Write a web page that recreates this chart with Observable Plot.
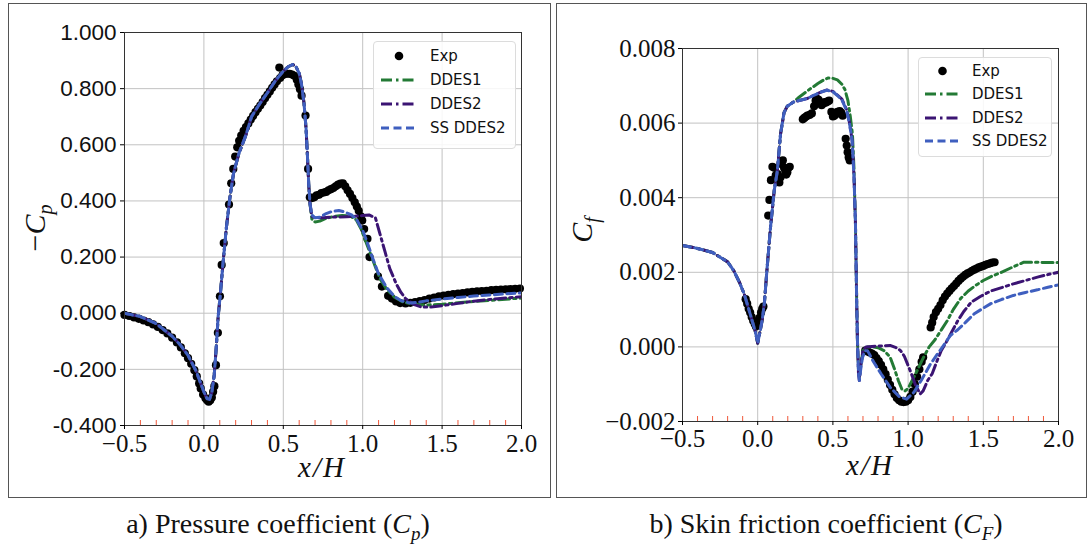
<!DOCTYPE html>
<html>
<head>
<meta charset="utf-8">
<script src="https://cdn.jsdelivr.net/npm/d3@7"></script>
<script src="https://cdn.jsdelivr.net/npm/@observablehq/plot@0.6"></script>
<style>
  html, body { margin: 0; padding: 0; background: #fff; }
  #wrap { position: relative; width: 1090px; height: 548px; overflow: hidden; background: #fff; }
  .panel { position: absolute; border: 1px solid #555; }
  .panel svg { display: block; }
  .legend { position: absolute; background: rgba(255,255,255,0.85); border: 1px solid #dcdcdc; border-radius: 4px;
            font-family: "DejaVu Sans", sans-serif; font-size: 15px; color: #111; }
  .legend svg { position: absolute; top: 0; }
  .legend span { position: absolute; white-space: nowrap; line-height: 20px; }
  .lab { position: absolute; font-family: "Liberation Serif", "DejaVu Serif", serif; color: #111; white-space: nowrap; }
  .cap { position: absolute; font-family: "Liberation Serif", serif; font-size: 28px; color: #111; white-space: nowrap; transform: translateX(-50%); }
</style>
</head>
<body>
<div id="wrap">
  <div class="panel" id="pa" style="left:8px;top:3px;width:541px;height:493px"></div>
  <div class="panel" id="pb" style="left:556px;top:3px;width:529px;height:493px"></div>

  <div class="lab" style="left:322px;top:467px;transform:translate(-50%,-50%);font-size:29px;font-style:italic;letter-spacing:2px">x/H</div>
  <div class="lab" style="left:870px;top:465px;transform:translate(-50%,-50%);font-size:29px;font-style:italic;letter-spacing:2px">x/H</div>
  <div class="lab" style="left:37px;top:228px;transform:translate(-50%,-50%) rotate(-90deg);font-size:30px">−<i>C</i><sub style="font-size:20px"><i>p</i></sub></div>
  <div class="lab" style="left:584px;top:230px;transform:translate(-50%,-50%) rotate(-90deg);font-size:30px"><i>C</i><sub style="font-size:20px"><i>f</i></sub></div>

  <div class="cap" style="left:278px;top:508px">a) Pressure coefficient (<i>C</i><sub style="font-size:19px"><i>p</i></sub>)</div>
  <div class="cap" style="left:826px;top:508px">b) Skin friction coefficient (<i>C</i><sub style="font-size:19px"><i>F</i></sub>)</div>
</div>
<script>
// ---------------- data: (a) pressure coefficient, -Cp vs x/H ----------------
const cpExp = [
  [-0.50,-0.006],[-0.47,-0.010],[-0.44,-0.015],[-0.41,-0.020],[-0.38,-0.026],[-0.35,-0.032],[-0.32,-0.040],
  [-0.29,-0.049],[-0.26,-0.060],[-0.23,-0.072],[-0.20,-0.087],[-0.17,-0.104],[-0.145,-0.122],[-0.12,-0.143],
  [-0.10,-0.160],[-0.08,-0.180],[-0.06,-0.203],[-0.045,-0.225],[-0.03,-0.250],[-0.02,-0.268],[-0.005,-0.290],
  [0.01,-0.303],[0.02,-0.310],[0.03,-0.315],[0.04,-0.310],[0.05,-0.300],[0.058,-0.280],[0.066,-0.260],
  [0.076,-0.185],[0.088,-0.070],[0.101,0.060],[0.112,0.172],[0.125,0.250],[0.158,0.387],[0.172,0.463],
  [0.185,0.514],[0.197,0.558],[0.21,0.591],[0.222,0.614],[0.235,0.633],[0.25,0.650],[0.265,0.663],
  [0.28,0.676],[0.295,0.690],[0.31,0.703],[0.325,0.716],[0.34,0.728],[0.355,0.740],[0.37,0.752],
  [0.385,0.766],[0.40,0.778],[0.415,0.790],[0.43,0.803],[0.445,0.815],[0.46,0.826],[0.475,0.875],
  [0.48,0.838],[0.495,0.848],[0.51,0.852],[0.525,0.853],[0.54,0.853],[0.555,0.850],[0.57,0.846],
  [0.585,0.832],[0.595,0.815],[0.605,0.798],[0.615,0.775],[0.64,0.704],[0.656,0.514],[0.667,0.413],
  [0.68,0.410],[0.695,0.413],[0.71,0.420],[0.725,0.422],[0.74,0.428],[0.755,0.430],[0.77,0.432],
  [0.785,0.438],[0.80,0.442],[0.815,0.446],[0.83,0.452],[0.845,0.458],[0.86,0.462],[0.875,0.463],
  [0.89,0.452],[0.905,0.438],[0.92,0.425],[0.935,0.410],[0.95,0.395],[0.963,0.380],[0.975,0.365],
  [0.988,0.345],[0.997,0.330],[1.009,0.300],[1.03,0.265],[1.043,0.200],[1.096,0.131],[1.121,0.095],
  [1.16,0.062],[1.184,0.052],[1.21,0.042],[1.236,0.036],[1.27,0.035],[1.30,0.037],[1.33,0.040],
  [1.36,0.043],[1.39,0.047],[1.42,0.052],[1.45,0.056],[1.48,0.060],[1.51,0.063],[1.54,0.065],
  [1.57,0.068],[1.60,0.070],[1.63,0.072],[1.66,0.074],[1.69,0.076],[1.72,0.078],[1.75,0.079],
  [1.78,0.080],[1.81,0.082],[1.84,0.083],[1.87,0.084],[1.90,0.085],[1.93,0.086],[1.96,0.087],[1.99,0.088]
];
// upstream part shared by the three simulations (curves overlap up to the step)
const cpSimUpstream = [
  [-0.50,0.000],[-0.40,-0.012],[-0.30,-0.037],[-0.20,-0.082],[-0.15,-0.112],[-0.10,-0.150],[-0.05,-0.205],
  [-0.02,-0.250],[0.00,-0.280],[0.02,-0.305],[0.035,-0.307],[0.05,-0.282],[0.065,-0.220],[0.078,-0.120],
  [0.09,-0.010],[0.102,0.058],[0.12,0.176],[0.142,0.307],[0.164,0.413],[0.186,0.496],[0.219,0.567],
  [0.263,0.632],[0.30,0.700],[0.35,0.745],[0.40,0.785],[0.45,0.828],[0.50,0.862],[0.53,0.878],
  [0.56,0.886],[0.58,0.878],[0.60,0.855],[0.615,0.815],[0.63,0.750],[0.643,0.660],[0.652,0.560],
  [0.66,0.460],[0.668,0.390]
];
const cpDdes1Wake = [
  [0.68,0.335],[0.70,0.325],[0.73,0.328],[0.77,0.338],[0.82,0.345],[0.87,0.348],[0.92,0.347],[0.96,0.332],
  [0.99,0.300],[1.02,0.255],[1.05,0.210],[1.08,0.165],[1.11,0.122],[1.15,0.086],[1.20,0.057],[1.25,0.041],
  [1.30,0.034],[1.35,0.031],[1.40,0.029],[1.50,0.032],[1.60,0.037],[1.70,0.042],[1.80,0.046],[1.90,0.050],[2.00,0.054]
];
const cpDdes2Wake = [
  [0.68,0.345],[0.70,0.340],[0.75,0.340],[0.80,0.342],[0.85,0.343],[0.90,0.344],[0.95,0.345],[1.00,0.348],
  [1.04,0.350],[1.08,0.340],[1.11,0.280],[1.14,0.220],[1.17,0.160],[1.21,0.106],[1.24,0.075],[1.27,0.052],
  [1.32,0.032],[1.37,0.022],[1.43,0.022],[1.50,0.027],[1.60,0.035],[1.70,0.043],[1.80,0.049],[1.90,0.054],[2.00,0.059]
];
const cpSsDdes2Wake = [
  [0.68,0.350],[0.70,0.340],[0.73,0.342],[0.77,0.355],[0.81,0.363],[0.85,0.366],[0.89,0.360],[0.93,0.350],
  [0.96,0.335],[1.00,0.295],[1.03,0.250],[1.06,0.200],[1.10,0.140],[1.15,0.092],[1.20,0.060],[1.24,0.045],
  [1.30,0.036],[1.35,0.039],[1.40,0.044],[1.50,0.051],[1.60,0.056],[1.70,0.061],[1.80,0.065],[1.90,0.069],[2.00,0.072]
];
const cpYTicks = [-0.4, -0.2, 0, 0.2, 0.4, 0.6, 0.8, 1.0];

// ---------------- data: (b) skin friction coefficient, Cf vs x/H ----------------
const cfExp = [
  [-0.08,0.00128],[-0.07,0.00116],[-0.06,0.00102],[-0.05,0.00092],[-0.04,0.00080],[-0.03,0.00070],
  [-0.02,0.00062],[-0.012,0.00055],[-0.004,0.00058],[0.004,0.00068],[0.012,0.00078],[0.022,0.00092],
  [0.03,0.00102],[0.038,0.00108],
  [0.07,0.00352],[0.078,0.00394],[0.088,0.00447],[0.098,0.00483],[0.11,0.00480],[0.12,0.00460],
  [0.133,0.00463],[0.144,0.00441],[0.152,0.00455],[0.16,0.00490],[0.167,0.00500],[0.175,0.00480],
  [0.183,0.00472],[0.19,0.00462],[0.197,0.00468],[0.205,0.00480],[0.213,0.00483],
  [0.30,0.00610],[0.31,0.00614],[0.32,0.00617],[0.33,0.00620],[0.345,0.00622],[0.36,0.00626],
  [0.375,0.00645],[0.385,0.00660],[0.395,0.00665],[0.405,0.00662],[0.415,0.00655],[0.425,0.00648],
  [0.435,0.00652],[0.445,0.00656],[0.455,0.00655],[0.465,0.00658],[0.475,0.00660],[0.49,0.00630],
  [0.50,0.00618],[0.51,0.00620],[0.52,0.00624],[0.53,0.00630],[0.545,0.00632],[0.555,0.00628],
  [0.565,0.00620],[0.585,0.00558],[0.592,0.00540],[0.598,0.00522],[0.605,0.00508],[0.612,0.00500],
  [0.715,-0.00010],[0.73,-0.00012],[0.745,-0.00015],[0.76,-0.00018],[0.775,-0.00022],[0.79,-0.00030],
  [0.805,-0.00038],[0.82,-0.00048],[0.835,-0.00060],[0.85,-0.00073],[0.865,-0.00088],[0.88,-0.00102],
  [0.895,-0.00115],[0.91,-0.00127],[0.925,-0.00137],[0.94,-0.00143],[0.955,-0.00147],[0.97,-0.00148],
  [0.985,-0.00147],[1.0,-0.00143],[1.015,-0.00134],[1.03,-0.00120],[1.045,-0.00100],[1.06,-0.00080],
  [1.075,-0.00060],[1.09,-0.00040],[1.10,-0.00028],
  [1.15,0.00052],[1.16,0.00065],[1.17,0.00080],[1.185,0.00093],[1.20,0.00102],[1.215,0.00112],
  [1.23,0.00125],[1.245,0.00135],[1.26,0.00143],[1.275,0.00150],[1.29,0.00157],[1.305,0.00163],
  [1.32,0.00170],[1.335,0.00177],[1.35,0.00183],[1.365,0.00188],[1.38,0.00193],[1.395,0.00197],
  [1.41,0.00200],[1.425,0.00204],[1.44,0.00207],[1.455,0.00210],[1.47,0.00213],[1.485,0.00215],
  [1.50,0.00217],[1.515,0.00220],[1.53,0.00222],[1.545,0.00224],[1.56,0.00226],[1.575,0.00227]
];
const cfSimUpstream = [
  [-0.50,0.00272],[-0.40,0.00264],[-0.30,0.00253],[-0.20,0.00228],[-0.16,0.00205],[-0.12,0.00172],
  [-0.09,0.00142],[-0.06,0.00102],[-0.037,0.00070],[-0.015,0.00040],[0.00,0.00010],[0.015,0.00040],
  [0.03,0.00072],[0.045,0.00120],[0.063,0.00214],[0.085,0.00320],[0.11,0.00420],[0.13,0.00470],
  [0.152,0.00571],[0.175,0.00628],[0.196,0.00645],[0.24,0.00657]
];
const cfDdes1Rest = [
  [0.27,0.00668],[0.31,0.00680],[0.35,0.00692],[0.40,0.00706],[0.44,0.00716],[0.47,0.00721],[0.50,0.00720],
  [0.53,0.00716],[0.56,0.00704],[0.58,0.00690],[0.60,0.00660],[0.615,0.00620],[0.63,0.00570],[0.64,0.00480],
  [0.65,0.00330],[0.657,0.00150],[0.663,0.00020],[0.67,-0.00060],[0.676,-0.00080],[0.685,-0.00050],
  [0.70,-0.00010],[0.72,0.00000],[0.76,0.00000],[0.80,-0.00002],[0.84,-0.00010],[0.88,-0.00027],
  [0.91,-0.00060],[0.935,-0.00090],[0.96,-0.00115],[0.98,-0.00118],[1.00,-0.00111],[1.05,-0.00072],
  [1.10,-0.00030],[1.14,0.00000],[1.18,0.00020],[1.22,0.00045],[1.26,0.00070],[1.30,0.00100],
  [1.35,0.00130],[1.40,0.00150],[1.45,0.00165],[1.50,0.00178],[1.56,0.00190],[1.62,0.00200],
  [1.70,0.00215],[1.77,0.00227],[1.85,0.00227],[1.92,0.00226],[2.00,0.00226]
];
const cfDdes2Rest = [
  [0.29,0.00662],[0.33,0.00666],[0.38,0.00676],[0.42,0.00683],[0.46,0.00689],[0.50,0.00685],[0.53,0.00675],
  [0.56,0.00664],[0.59,0.00637],[0.61,0.00602],[0.628,0.00553],[0.64,0.00460],[0.65,0.00330],[0.657,0.00150],
  [0.663,0.00020],[0.67,-0.00070],[0.676,-0.00090],[0.685,-0.00050],[0.70,-0.00010],[0.72,0.00000],
  [0.78,0.00002],[0.84,0.00003],[0.88,0.00004],[0.92,-0.00002],[0.95,-0.00010],[0.975,-0.00025],
  [0.995,-0.00045],[1.02,-0.00070],[1.05,-0.00103],[1.08,-0.00126],[1.10,-0.00118],[1.13,-0.00090],
  [1.16,-0.00072],[1.19,-0.00040],[1.22,-0.00010],[1.25,0.00010],[1.29,0.00040],[1.33,0.00070],
  [1.37,0.00095],[1.42,0.00120],[1.48,0.00135],[1.55,0.00150],[1.63,0.00160],[1.70,0.00169],
  [1.78,0.00178],[1.86,0.00187],[1.93,0.00194],[2.00,0.00200]
];
const cfSsDdes2Rest = [
  [0.29,0.00662],[0.33,0.00666],[0.38,0.00676],[0.42,0.00683],[0.46,0.00688],[0.50,0.00684],[0.53,0.00674],
  [0.56,0.00662],[0.59,0.00635],[0.61,0.00600],[0.628,0.00553],[0.64,0.00460],[0.65,0.00330],[0.657,0.00150],
  [0.663,0.00020],[0.67,-0.00070],[0.676,-0.00090],[0.685,-0.00060],[0.697,-0.00028],[0.715,-0.00010],
  [0.73,-0.00010],[0.77,-0.00040],[0.82,-0.00072],[0.88,-0.00108],[0.94,-0.00133],[0.99,-0.00140],
  [1.04,-0.00121],[1.09,-0.00088],[1.15,-0.00045],[1.22,-0.00005],[1.28,0.00030],[1.33,0.00046],
  [1.38,0.00065],[1.44,0.00089],[1.50,0.00104],[1.55,0.00116],[1.62,0.00127],[1.70,0.00138],
  [1.78,0.00146],[1.86,0.00153],[1.93,0.00160],[2.00,0.00166]
];
const cfYTicks = [-0.002, 0, 0.002, 0.004, 0.006, 0.008];

// ---------------- shared ----------------
const xMajor = [-0.5, 0, 0.5, 1.0, 1.5, 2.0];
const xMinor = [-0.4,-0.3,-0.2,-0.1,0.1,0.2,0.3,0.4,0.6,0.7,0.8,0.9,1.1,1.2,1.3,1.4,1.6,1.7,1.8,1.9];
const seriesNames = ["Exp", "DDES1", "DDES2", "SS DDES2"];
const seriesColors = ["#000000", "#237a35", "#3b1473", "#3f5fbf"];
const seriesDash = [null, "11,4,2.5,4", "11,4,2.5,4", "8,4.5"];

function simLines(sets) {
  return sets.map((data, i) => Plot.line(data, {
    x: d => d[0], y: d => d[1],
    stroke: seriesColors[i + 1], strokeWidth: 3,
    strokeDasharray: seriesDash[i + 1], strokeLinejoin: "round", clip: true
  }));
}

function panel(opts) {
  return Plot.plot({
    width: opts.width, height: opts.height,
    marginLeft: opts.ml, marginRight: opts.mr, marginTop: opts.mt, marginBottom: opts.mb,
    style: { background: "transparent", overflow: "visible" },
    x: { domain: [-0.5, 2.0] },
    y: { domain: opts.yDomain },
    marks: [
      Plot.gridX({ ticks: xMajor, stroke: "#c2c2c2", strokeOpacity: 1, strokeWidth: 1 }),
      Plot.gridY({ ticks: opts.yTicks, stroke: "#c2c2c2", strokeOpacity: 1, strokeWidth: 1 }),
      Plot.dot(opts.exp, { x: d => d[0], y: d => d[1], r: 4.1, fill: "#000", stroke: "none" }),
      ...simLines(opts.sims),
      Plot.frame({ stroke: "#333", strokeWidth: 1 }),
      Plot.axisX({ ticks: xMinor, tickSize: -5, stroke: "#f0583a", strokeWidth: 1, tickFormat: () => "", label: null }),
      Plot.axisX({ ticks: xMajor, tickFormat: d3.format(".1f"), tickSize: 4, tickPadding: opts.xPad,
                   fill: "#111", label: null, fontSize: 25, fontFamily: "Liberation Serif" }),
      Plot.axisY({ ticks: opts.yTicks, tickFormat: opts.yFormat, tickSize: 4, tickPadding: opts.yPad,
                   fill: "#111", label: null, fontSize: opts.ySize, fontFamily: opts.yFont })
    ]
  });
}

// set tick-label fonts after the charts are in the page
function styleTicks(svg, xFont, xSize, yFont, ySize) {
  svg.querySelectorAll("text").forEach(t => {
    const g = t.parentNode;
    const lab = (g && g.getAttribute && g.getAttribute("aria-label")) || "";
    const isY = lab.startsWith("y") || getComputedStyle(t).textAnchor === "end";
    const fam = isY ? yFont : xFont, size = isY ? ySize : xSize;
    t.style.setProperty("font-family", fam, "important");
    t.style.setProperty("font-size", size + "px", "important");
  });
}

const svgA = panel({
  width: 541, height: 493, ml: 115, mr: 29, mt: 28, mb: 72,
  yDomain: [-0.4, 1.0], yTicks: cpYTicks, yFormat: d => d.toFixed(3),
  yPad: 4, xPad: 5, yFont: "Liberation Sans", ySize: 22.5,
  exp: cpExp,
  sims: [cpSimUpstream.concat(cpDdes1Wake), cpSimUpstream.concat(cpDdes2Wake), cpSimUpstream.concat(cpSsDdes2Wake)]
});
document.getElementById("pa").append(svgA);
styleTicks(svgA, "Liberation Serif", 25, "Liberation Sans", 22.5);

const svgB = panel({
  width: 529, height: 493, ml: 125, mr: 28, mt: 44, mb: 76,
  yDomain: [-0.002, 0.008], yTicks: cfYTicks, yFormat: d3.format(".3f"),
  yPad: 3, xPad: 4, yFont: "Liberation Serif", ySize: 25,
  exp: cfExp,
  sims: [cfSimUpstream.concat(cfDdes1Rest), cfSimUpstream.concat(cfDdes2Rest), cfSimUpstream.concat(cfSsDdes2Rest)]
});
document.getElementById("pb").append(svgB);
styleTicks(svgB, "Liberation Serif", 25, "Liberation Serif", 25);

// ---------------- legends ----------------
function legend(left, top, w, h, rows, symX, lineX0, lineX1, textX) {
  const box = document.createElement("div");
  box.className = "legend";
  Object.assign(box.style, { left: left + "px", top: top + "px", width: w + "px", height: h + "px" });
  seriesNames.forEach((name, i) => {
    const ns = "http://www.w3.org/2000/svg";
    const svg = document.createElementNS(ns, "svg");
    svg.setAttribute("width", w); svg.setAttribute("height", 20);
    svg.style.left = "0px"; svg.style.top = (rows[i] - 10) + "px";
    if (i === 0) {
      const c = document.createElementNS(ns, "circle");
      c.setAttribute("cx", symX); c.setAttribute("cy", 10); c.setAttribute("r", 4.3); c.setAttribute("fill", "#000");
      svg.append(c);
    } else {
      const l = document.createElementNS(ns, "line");
      l.setAttribute("x1", lineX0); l.setAttribute("x2", lineX1); l.setAttribute("y1", 10); l.setAttribute("y2", 10);
      l.setAttribute("stroke", seriesColors[i]); l.setAttribute("stroke-width", 3);
      l.setAttribute("stroke-dasharray", seriesDash[i]);
      svg.append(l);
    }
    box.append(svg);
    const t = document.createElement("span");
    t.textContent = name;
    t.style.left = textX + "px"; t.style.top = (rows[i] - 10) + "px";
    box.append(t);
  });
  document.getElementById("wrap").append(box);
}
legend(373, 41, 141, 106, [14, 38, 62, 86], 25, 7, 43, 56);
legend(918, 57, 132, 98, [13, 36, 60, 83], 23.5, 6, 41, 53);
</script>
</body>
</html>
